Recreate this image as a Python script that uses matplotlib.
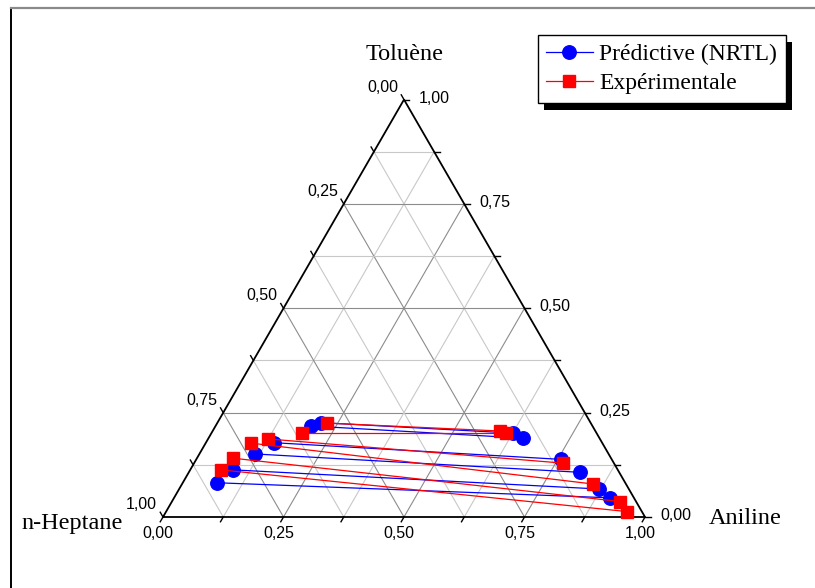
import numpy as np
import matplotlib
matplotlib.use("Agg")
import matplotlib.pyplot as plt
from matplotlib.patches import Rectangle
from matplotlib.lines import Line2D

# ---- data (mole fractions) ----
# predicted (NRTL): heptane-rich phase (left) and aniline-rich phase (right)
pred_left_toluene = [0.082, 0.113, 0.151, 0.178, 0.218, 0.226]
pred_left_aniline = [0.072, 0.088, 0.116, 0.141, 0.199, 0.215]
pred_right_toluene = [0.046, 0.067, 0.107, 0.138, 0.189, 0.201]
pred_right_aniline = [0.904, 0.872, 0.812, 0.757, 0.652, 0.625]
# experimental
exp_left_toluene = [0.113, 0.141, 0.177, 0.187, 0.202, 0.225]
exp_left_aniline = [0.063, 0.074, 0.094, 0.124, 0.188, 0.227]
exp_right_toluene = [0.013, 0.037, 0.079, 0.129, 0.202, 0.206]
exp_right_aniline = [0.956, 0.930, 0.853, 0.766, 0.611, 0.596]

tick_values = [0.0, 0.25, 0.5, 0.75, 1.0]
tick_labels = ["0,00", "0,25", "0,50", "0,75", "1,00"]
comp_names = ["Toluène", "n-Heptane", "Aniline"]
series_names = ["Prédictive (NRTL)", "Expérimentale"]

S3 = np.sqrt(3) / 2


def tern(aniline, toluene):
    a = np.asarray(aniline, float)
    t = np.asarray(toluene, float)
    return a + t / 2, t * S3


W, H = 815, 588
fig = plt.figure(figsize=(W / 100, H / 100), dpi=100)
ax = fig.add_axes([0, 0, 1, 1])
# pixel mapping: x_pix = 163 + 482*X ; y_pix = 517 - 482*Y
x0, y0, sc = 163.0, 517.0, 482.0
ax.set_xlim(-x0 / sc, (W - x0) / sc)
ax.set_ylim((y0 - H) / sc, y0 / sc)
ax.axis("off")

px = 1.0 / sc  # one pixel in data units

# outer frame (left + top)
ax.add_line(Line2D([(11 - x0) / sc] * 2, [(y0 - 588) / sc, (y0 - 7.5) / sc],
                   color="black", lw=1.4))
ax.add_line(Line2D([(11 - x0) / sc, (W - x0) / sc], [(y0 - 7.5) / sc] * 2,
                   color="#8a8a8a", lw=1.6))

# grid
for v in np.arange(0.125, 1.0, 0.125):
    major = abs((v / 0.25) - round(v / 0.25)) < 1e-9
    col = "#8c8c8c" if major else "#c8c8c8"
    lw = 0.8
    # constant toluene (horizontal)
    xs, ys = tern([1 - v, 0], [v, v])
    ax.plot(xs, ys, color=col, lw=lw, zorder=1)
    # constant aniline
    xs, ys = tern([v, v], [0, 1 - v])
    ax.plot(xs, ys, color=col, lw=lw, zorder=1)
    # constant heptane: a + t = 1 - v
    xs, ys = tern([1 - v, 0], [0, 1 - v])
    ax.plot(xs, ys, color=col, lw=lw, zorder=1)

# triangle edges
xs, ys = tern([0, 1, 0, 0], [0, 0, 1, 0])
ax.plot(xs, ys, color="black", lw=1.3, zorder=3, solid_joinstyle="miter")

# ticks every 0.125
tl = 5.5 * px
for v in np.arange(0, 1.0001, 0.125):
    # bottom (aniline): extension of constant-aniline line downward-left
    bx, by = tern(v, 0)
    ax.plot([bx, bx - 0.5 * tl], [by, by - S3 * tl], color="black", lw=1.0, zorder=3)
    # right (toluene): horizontal to the right
    rx, ry = tern(1 - v, v)
    ax.plot([rx, rx + tl], [ry, ry], color="black", lw=1.0, zorder=3)
    # left (heptane): up-left
    lx, ly = tern(0, 1 - v)
    ax.plot([lx, lx - 0.5 * tl], [ly, ly + S3 * tl], color="black", lw=1.0, zorder=3)

tfont = dict(family="Liberation Sans", size=11.5)
for v, lab in zip(tick_values, tick_labels):
    bx, by = tern(v, 0)
    ax.text(bx - 5 * px, by - 17 * px, lab, ha="center", va="center", **tfont)
    rx, ry = tern(1 - v, v)
    ax.text(rx + 15 * px, ry + 1.5 * px, lab, ha="left", va="center", **tfont)
    lx, ly = tern(0, 1 - v)
    ax.text(lx - 6 * px, ly + 12.5 * px, lab, ha="right", va="center", **tfont)

nfont = dict(family="Liberation Serif", size=17.5)
ax.text((405 - x0) / sc, (y0 - 55) / sc, comp_names[0], ha="center", va="center", **nfont)
ax.text((72 - x0) / sc, (y0 - 524) / sc, comp_names[1], ha="center", va="center", **nfont)
ax.text((745 - x0) / sc, (y0 - 518) / sc, comp_names[2], ha="center", va="center", **nfont)

# tie lines + points
plx, ply = tern(pred_left_aniline, pred_left_toluene)
prx, pry = tern(pred_right_aniline, pred_right_toluene)
elx, ely = tern(exp_left_aniline, exp_left_toluene)
erx, ery = tern(exp_right_aniline, exp_right_toluene)

for i in range(len(plx)):
    ax.plot([plx[i], prx[i]], [ply[i], pry[i]], color="#0000ff", lw=0.9, zorder=4)
ax.plot(np.r_[plx, prx], np.r_[ply, pry], ls="none", marker="o", ms=9.7,
        color="#0000ff", mec="#0000ff", zorder=5)
for i in range(len(elx)):
    ax.plot([elx[i], erx[i]], [ely[i], ery[i]], color="#ff0000", lw=0.9, zorder=6)
ax.plot(np.r_[elx, erx], np.r_[ely, ery], ls="none", marker="s", ms=8.6,
        color="#ff0000", mec="#ff0000", zorder=7)

# legend
h1 = Line2D([], [], color="#0000ff", lw=0.9, marker="o", ms=9.7)
h2 = Line2D([], [], color="#ff0000", lw=0.9, marker="s", ms=8.6)
leg = fig.legend([h1, h2], series_names, loc="upper left",
                 bbox_to_anchor=(537.5 / W, 1 - 35 / H),
                 borderaxespad=0, frameon=True, fancybox=False,
                 framealpha=1.0, facecolor="white",
                 prop=dict(family="Liberation Serif", size=17),
                 handlelength=1.95, handletextpad=0.27, borderpad=0.38,
                 labelspacing=0.3)
leg.get_frame().set_edgecolor("black")
leg.get_frame().set_linewidth(1.0)
leg.set_zorder(10)
# legend shadow
fig.canvas.draw()
bb = leg.get_window_extent()
shadow = Rectangle((bb.x0 + 6, bb.y0 - 7), bb.width, bb.height,
                   transform=None, facecolor="black", edgecolor="none", zorder=9)
fig.add_artist(shadow)

fig.savefig("out.png", dpi=100)
